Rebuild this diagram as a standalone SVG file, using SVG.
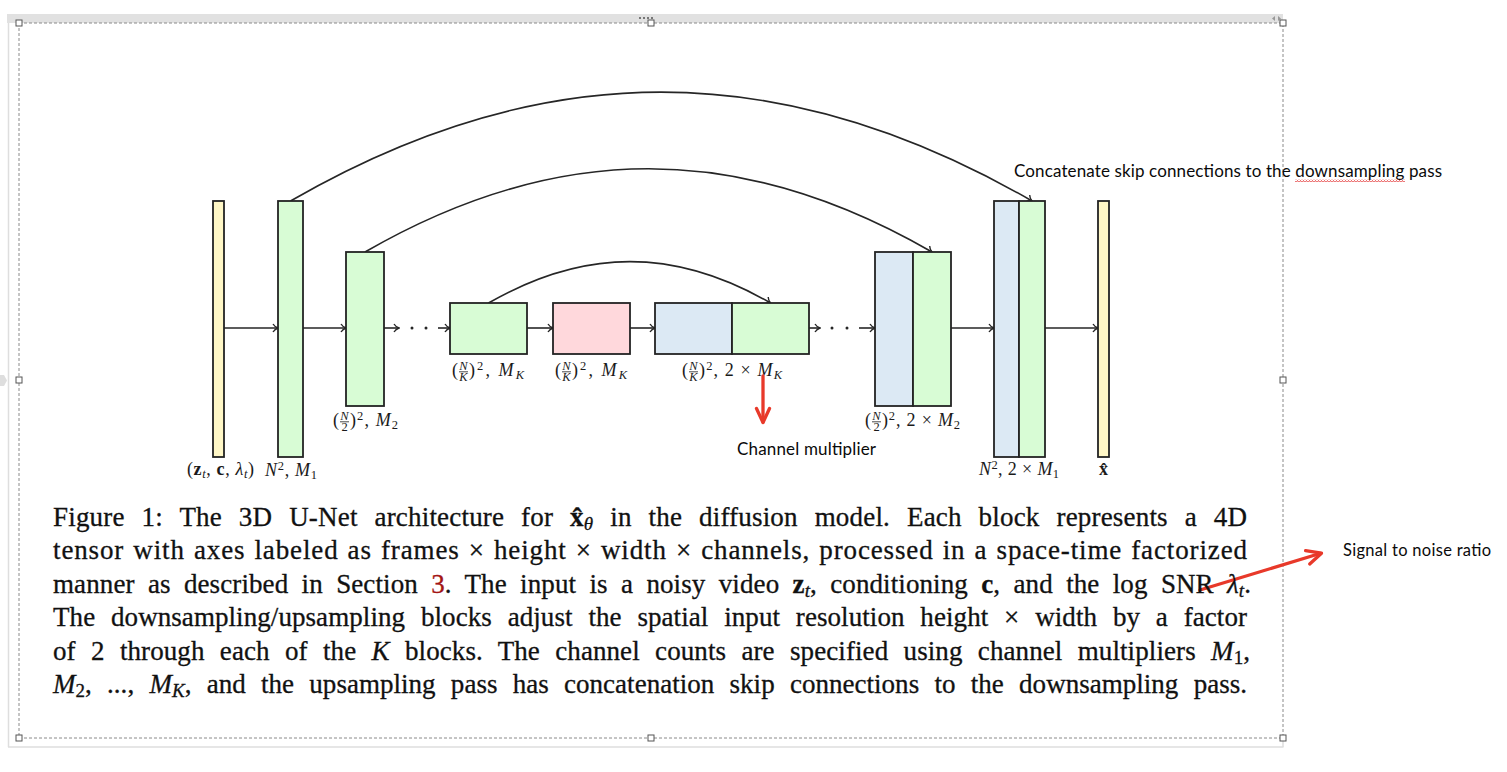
<svg xmlns="http://www.w3.org/2000/svg" width="1507" height="772" viewBox="0 0 1507 772">
<style>
.blk{stroke:#232323;stroke-width:1.8}
.y{fill:#fff7c6}.g{fill:#d8fcd5}.p{fill:#ffd8dc}.b{fill:#dce9f4}
.con{stroke:#262626;stroke-width:1.6;fill:none}
.m{font-family:"Liberation Serif",serif;font-size:18px;fill:#1a1a1a}
.i{font-style:italic}
.s{font-size:12.5px}
.fb{stroke:#1a1a1a;stroke-width:0.8}
.cap{font-family:"Liberation Serif",serif;font-size:27px;fill:#111;stroke:#111;stroke-width:0.3}
.ann{font-family:Lato,"Open Sans",sans-serif;fill:#0a0a0a}
.red{stroke:#e8392a;stroke-width:3.3;fill:none;stroke-linecap:round;stroke-linejoin:round}
.hd{fill:#fff;stroke:#555;stroke-width:1}
</style>
<defs>
<marker id="ah" viewBox="-6 -5 7 10" refX="0" refY="0" markerWidth="7" markerHeight="10" markerUnits="userSpaceOnUse" orient="auto">
<path d="M-5,-4 C-3.5,-1.6 -1.5,-0.5 0,0 C-1.5,0.5 -3.5,1.6 -5,4" fill="none" stroke="#262626" stroke-width="1.4"/>
</marker>
<pattern id="sq" width="3" height="3" patternUnits="userSpaceOnUse">
<path d="M0,2.5 L1.5,0.5 L3,2.5" fill="none" stroke="#e02020" stroke-width="0.8"/>
</pattern>
</defs>
<rect width="1507" height="772" fill="#fff"/>

<g id="frame">
<rect x="7" y="14" width="1276" height="9" fill="#e1e1e1"/>
<line x1="8.5" y1="23" x2="8.5" y2="747" stroke="#dedede" stroke-width="1.5"/>
<line x1="8" y1="747" x2="1283.5" y2="747" stroke="#dedede" stroke-width="1.5"/>
<line x1="1283" y1="738" x2="1283" y2="747" stroke="#dedede" stroke-width="1.5"/>
<polygon points="0,375 4,375 7,380.5 4,386 0,386" fill="#dedede"/>
<rect x="19" y="23" width="1264" height="715" fill="none" stroke="#8a8a8a" stroke-width="1" stroke-dasharray="3 2"/>
<rect x="639" y="17" width="2" height="2" fill="#777"/><rect x="643" y="17" width="2" height="2" fill="#777"/><rect x="647" y="17" width="2" height="2" fill="#777"/><rect x="651" y="17" width="2" height="2" fill="#777"/>
<polygon points="1275,16 1275,21 1272,18.5" fill="#999"/><polygon points="1278,16 1278,21 1281,18.5" fill="#999"/>
<rect class="hd" x="16" y="20" width="6" height="6"/>
<rect class="hd" x="648" y="20" width="6" height="6"/>
<rect class="hd" x="1280" y="20" width="6" height="6"/>
<rect class="hd" x="16" y="377" width="6" height="6"/>
<rect class="hd" x="1280" y="377" width="6" height="6"/>
<rect class="hd" x="16" y="735" width="6" height="6"/>
<rect class="hd" x="648" y="735" width="6" height="6"/>
<rect class="hd" x="1280" y="735" width="6" height="6"/>
</g>

<g id="connectors">
<path class="con" d="M224,328 H278" marker-end="url(#ah)"/>
<path class="con" d="M303,328 H346" marker-end="url(#ah)"/>
<path class="con" d="M384,328 H399" marker-end="url(#ah)"/>
<circle cx="412" cy="328" r="1.5" fill="#262626"/>
<circle cx="426" cy="328" r="1.5" fill="#262626"/>
<path class="con" d="M438,328 H450" marker-end="url(#ah)"/>
<path class="con" d="M527,328 H553" marker-end="url(#ah)"/>
<path class="con" d="M630,328 H655" marker-end="url(#ah)"/>
<path class="con" d="M809,328 H820" marker-end="url(#ah)"/>
<circle cx="832" cy="328" r="1.5" fill="#262626"/>
<circle cx="847" cy="328" r="1.5" fill="#262626"/>
<path class="con" d="M859,328 H875" marker-end="url(#ah)"/>
<path class="con" d="M951,328 H994" marker-end="url(#ah)"/>
<path class="con" d="M1045,328 H1098" marker-end="url(#ah)"/>
<path class="con" d="M290.5,201 C541.6,55.8 780.4,55.8 1032,201" marker-end="url(#ah)"/>
<path class="con" d="M365,252 C557.2,141 739.8,141 932,252" marker-end="url(#ah)"/>
<path class="con" d="M488.5,303 C584.6,247.8 675.4,247.8 770.5,303" marker-end="url(#ah)"/>
</g>

<g id="input">
<rect class="blk y" x="213" y="201" width="11" height="256"/>
<text class="m" x="187" y="475" textLength="67" lengthAdjust="spacing">(<tspan font-weight="bold">z</tspan><tspan class="s i" dy="3">t</tspan><tspan dy="-3">, </tspan><tspan font-weight="bold">c</tspan>, <tspan class="i">λ</tspan><tspan class="s i" dy="3">t</tspan><tspan dy="-3">)</tspan></text>
</g>

<g id="down1">
<rect class="blk g" x="278" y="201" width="25" height="256"/>
<text class="m" x="265" y="476" textLength="52" lengthAdjust="spacing"><tspan class="i">N</tspan><tspan class="s" dy="-6">2</tspan><tspan dy="6">, </tspan><tspan class="i">M</tspan><tspan class="s" dy="3">1</tspan></text>
</g>

<g id="down2">
<rect class="blk g" x="346" y="252" width="38" height="154"/>
<text class="m" x="333" y="426">(</text>
<text class="m s i" x="344.5" y="420" text-anchor="middle">N</text>
<line class="fb" x1="340" y1="421.8" x2="349" y2="421.8"/>
<text class="m s" x="344.5" y="431" text-anchor="middle">2</text>
<text class="m" x="350" y="426" textLength="48" lengthAdjust="spacing">)<tspan class="s" dy="-6">2</tspan><tspan dy="6">, </tspan><tspan class="i">M</tspan><tspan class="s" dy="3">2</tspan></text>
</g>

<g id="downK">
<rect class="blk g" x="450" y="303" width="77" height="51"/>
<text class="m" x="452" y="376">(</text>
<text class="m s i" x="463.5" y="370" text-anchor="middle">N</text>
<line class="fb" x1="459" y1="371.8" x2="468" y2="371.8"/>
<text class="m s i" x="463.5" y="381" text-anchor="middle">K</text>
<text class="m" x="469" y="376" textLength="55" lengthAdjust="spacing">)<tspan class="s" dy="-6">2</tspan><tspan dy="6">, </tspan><tspan class="i">M</tspan><tspan class="s i" dy="3">K</tspan></text>
</g>

<g id="middle">
<rect class="blk p" x="553" y="303" width="77" height="51"/>
<text class="m" x="555" y="376">(</text>
<text class="m s i" x="566.5" y="370" text-anchor="middle">N</text>
<line class="fb" x1="562" y1="371.8" x2="571" y2="371.8"/>
<text class="m s i" x="566.5" y="381" text-anchor="middle">K</text>
<text class="m" x="572" y="376" textLength="55" lengthAdjust="spacing">)<tspan class="s" dy="-6">2</tspan><tspan dy="6">, </tspan><tspan class="i">M</tspan><tspan class="s i" dy="3">K</tspan></text>
</g>

<g id="upK">
<rect class="blk b" x="655" y="303" width="77" height="51"/>
<rect class="blk g" x="732" y="303" width="77" height="51"/>
<text class="m" x="682" y="376">(</text>
<text class="m s i" x="693.5" y="370" text-anchor="middle">N</text>
<line class="fb" x1="689" y1="371.8" x2="698" y2="371.8"/>
<text class="m s i" x="693.5" y="381" text-anchor="middle">K</text>
<text class="m" x="699" y="376" textLength="83" lengthAdjust="spacing">)<tspan class="s" dy="-6">2</tspan><tspan dy="6">, 2 × </tspan><tspan class="i">M</tspan><tspan class="s i" dy="3">K</tspan></text>
</g>

<g id="up2">
<rect class="blk b" x="875" y="252" width="38" height="154"/>
<rect class="blk g" x="913" y="252" width="38" height="154"/>
<text class="m" x="865" y="426">(</text>
<text class="m s i" x="876.5" y="420" text-anchor="middle">N</text>
<line class="fb" x1="872" y1="421.8" x2="881" y2="421.8"/>
<text class="m s" x="876.5" y="431" text-anchor="middle">2</text>
<text class="m" x="882" y="426" textLength="78" lengthAdjust="spacing">)<tspan class="s" dy="-6">2</tspan><tspan dy="6">, 2 × </tspan><tspan class="i">M</tspan><tspan class="s" dy="3">2</tspan></text>
</g>

<g id="up1">
<rect class="blk b" x="994" y="201" width="25" height="256"/>
<rect class="blk g" x="1019" y="201" width="26" height="256"/>
<text class="m" x="979" y="475" textLength="80" lengthAdjust="spacing"><tspan class="i">N</tspan><tspan class="s" dy="-6">2</tspan><tspan dy="6">, 2 × </tspan><tspan class="i">M</tspan><tspan class="s" dy="3">1</tspan></text>
</g>

<g id="output">
<rect class="blk y" x="1098" y="201" width="11" height="256"/>
<text class="m" x="1103.5" y="475" text-anchor="middle" font-weight="bold">x̂</text>
</g>

<g id="annotations">
<text class="ann" x="1014" y="177" font-size="17" textLength="428" lengthAdjust="spacing">Concatenate skip connections to the downsampling pass</text>
<rect x="1295" y="179" width="110" height="3" fill="url(#sq)"/>
<text class="ann" x="737" y="455" font-size="17" textLength="139" lengthAdjust="spacing">Channel multiplier</text>
<text class="ann" x="1343" y="556" font-size="16.5" textLength="148" lengthAdjust="spacing">Signal to noise ratio</text>
<path class="red" d="M763,376 V422"/>
<path class="red" d="M756.5,408.5 L763,422.5 L769.5,408.5"/>
<path class="red" d="M1200,590 L1320,553.5"/>
<path class="red" d="M1305.6,550.7 L1321.5,553.2 L1309.7,564"/>
</g>

<g id="caption" class="cap">
<text x="53" y="526" textLength="1194" lengthAdjust="spacing" word-spacing="10">Figure 1: The 3D U-Net architecture for <tspan font-weight="bold">x̂</tspan><tspan class="i" font-size="19" dy="4">θ</tspan><tspan dy="-4"> in the diffusion model. Each block represents a 4D</tspan></text>
<text x="53" y="559.4" textLength="1194" lengthAdjust="spacing" word-spacing="1.5">tensor with axes labeled as frames × height × width × channels, processed in a space-time factorized</text>
<text x="53" y="592.8" textLength="1198" lengthAdjust="spacing" word-spacing="6.5">manner as described in Section <tspan fill="#a31515" stroke="#a31515">3</tspan>. The input is a noisy video <tspan font-weight="bold">z</tspan><tspan class="i" font-size="19" dy="4">t</tspan><tspan dy="-4">, conditioning </tspan><tspan font-weight="bold">c</tspan>, and the log SNR <tspan class="i">λ</tspan><tspan class="i" font-size="19" dy="4">t</tspan><tspan dy="-4">.</tspan></text>
<text x="53" y="626.2" textLength="1194" lengthAdjust="spacing" word-spacing="9">The downsampling/upsampling blocks adjust the spatial input resolution height × width by a factor</text>
<text x="53" y="659.6" textLength="1197" lengthAdjust="spacing" word-spacing="8.5">of 2 through each of the <tspan class="i">K</tspan> blocks. The channel counts are specified using channel multipliers <tspan class="i">M</tspan><tspan font-size="19" dy="4">1</tspan><tspan dy="-4">,</tspan></text>
<text x="53" y="693" textLength="1194" lengthAdjust="spacing" word-spacing="8.5"><tspan class="i">M</tspan><tspan font-size="19" dy="4">2</tspan><tspan dy="-4">, ..., </tspan><tspan class="i">M</tspan><tspan class="i" font-size="19" dy="4">K</tspan><tspan dy="-4">, and the upsampling pass has concatenation skip connections to the downsampling pass.</tspan></text>
</g>
</svg>
